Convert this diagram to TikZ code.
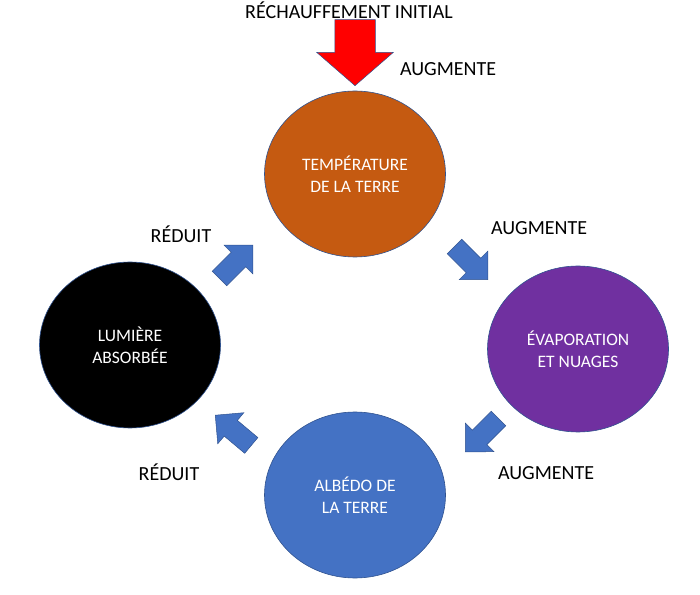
\documentclass[tikz,border=0pt]{standalone}
\usepackage{fontspec}
\setmainfont{Carlito}
\usepackage{tikz}
\usetikzlibrary{shapes.geometric,shapes.arrows}

\definecolor{tempcol}{HTML}{C55A11}
\definecolor{evapcol}{HTML}{7030A0}
\definecolor{albcol}{HTML}{4472C4}
\definecolor{rimcol}{HTML}{2F528F}

\begin{document}
\begin{tikzpicture}[
  x=1pt, y=1pt,
  bubble/.style={ellipse, draw=rimcol, line width=0.6pt, inner sep=0pt, minimum width=181pt, minimum height=166pt, text=white, align=center, font=\fontsize{17.5}{22}\selectfont},
  tag/.style={font=\fontsize{20}{24}\selectfont, inner sep=0pt},
  turn/.style={single arrow, draw=rimcol, line width=0.5pt, fill=albcol, inner xsep=0pt, inner ysep=10pt, minimum height=47pt, single arrow head extend=10pt, anchor=tip}
]
\useasboundingbox (0,0) rectangle (700,594);

% the four stages of the loop
\node[bubble, fill=tempcol] (temp) at (355,420) {TEMPÉRATURE\\DE LA TERRE};
\node[bubble, fill=evapcol] (evap) at (578,245) {ÉVAPORATION\\ET NUAGES};
\node[bubble, fill=albcol] (alb) at (355,99) {ALBÉDO DE\\LA TERRE};
\node[bubble, fill=black] (lum) at (130,249) {LUMIÈRE\\ABSORBÉE};

% initial push
\node[tag] (init) at (349,584) {RÉCHAUFFEMENT INITIAL};
\node[single arrow, draw=rimcol, line width=0.5pt, fill=red, inner xsep=0pt, inner ysep=20pt, minimum height=66pt, single arrow head extend=18pt, single arrow tip angle=98, rotate=-90, anchor=tip] (push) at (355,508) {};

% arrows between stages
\node[turn, rotate=-45] (tu1) at (488,314) {};
\node[turn, rotate=-135] (tu2) at (465,142) {};
\node[turn, rotate=140] (tu3) at (215,179) {};
\node[turn, rotate=45] (tu4) at (253,349) {};

% labels
\node[tag] (aug1) at (448,525) {AUGMENTE};
\node[tag] (aug2) at (539,366) {AUGMENTE};
\node[tag] (aug3) at (546,121) {AUGMENTE};
\node[tag] (red1) at (181,360) {RÉDUIT};
\node[tag] (red2) at (169,122) {RÉDUIT};

\end{tikzpicture}
\end{document}
